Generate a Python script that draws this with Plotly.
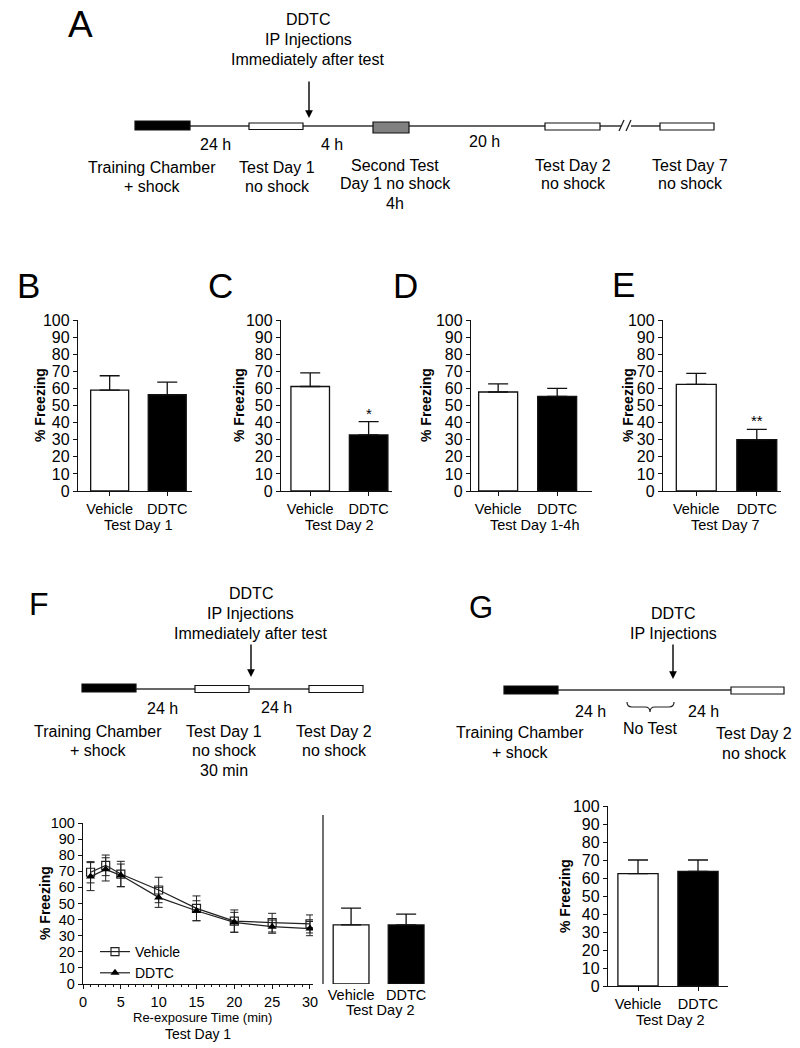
import plotly.graph_objects as go

W, H = 800, 1048
FONT = "Liberation Sans, Arial, sans-serif"
INK = "#111111"

# ---------------- data ----------------
groups = ["Vehicle", "DDTC"]
b_mean = [59.0, 56.3]; b_sem = [8.4, 7.4]     # Test Day 1
c_mean = [61.1, 32.8]; c_sem = [8.0, 7.8]     # Test Day 2
d_mean = [57.9, 55.3]; d_sem = [4.8, 4.7]     # Test Day 1-4h
e_mean = [62.3, 30.0]; e_sem = [6.5, 6.0]     # Test Day 7
f_bar_mean = [36.7, 36.7]; f_bar_sem = [10.4, 6.7]  # F, Test Day 2
g_mean = [62.4, 63.7]; g_sem = [7.6, 6.3]     # G, Test Day 2

time_min = [1, 3, 5, 10, 15, 20, 25, 30]
veh_line = [69.4, 73.7, 68.3, 58.4, 47.0, 39.1, 38.1, 37.3]
veh_sem = [6.6, 6.4, 7.9, 7.9, 7.7, 6.9, 5.8, 5.6]
ddtc_line = [66.7, 71.2, 67.5, 53.8, 45.5, 38.3, 35.6, 34.4]
ddtc_sem = [8.7, 7.2, 7.0, 6.2, 6.2, 6.2, 4.1, 4.4]

bar_panels = [  # (axis suffix, means, sems, subtitle, star)
    ("", b_mean, b_sem, "Test Day 1", ""),
    ("2", c_mean, c_sem, "Test Day 2", "*"),
    ("3", d_mean, d_sem, "Test Day 1-4h", ""),
    ("4", e_mean, e_sem, "Test Day 7", "**"),
]
yticks = list(range(0, 101, 10))


def px(x):
    return x / W


def py(y):
    return 1 - y / H


fig = go.Figure()

# ---------------- geometry (pixels) ----------------
bar_geo = {
    "": dict(x0=78, x1=192, rng=[-0.55, 1.43], ylab=40, mid=135),
    "2": dict(x0=281, x1=392, rng=[-0.5, 1.40], ylab=239, mid=336),
    "3": dict(x0=471, x1=592, rng=[-0.46, 1.59], ylab=426, mid=531),
    "4": dict(x0=663, x1=781, rng=[-0.55, 1.40], ylab=628, mid=722),
}


def add_bars(suffix, means, sems, width):
    fig.add_trace(go.Bar(
        x=groups, y=means, xaxis="x" + suffix, yaxis="y" + suffix, width=width,
        marker=dict(color=["white", "black"], line=dict(color=INK, width=1.3)),
        error_y=dict(type="data", array=sems, arrayminus=[0, 0], symmetric=False,
                     color=INK, thickness=1.3, width=10),
        showlegend=False, hoverinfo="skip"))


def style_bar_axes(suffix, x0, x1, y0, y1, rng, xticks=True, yshow=True):
    fig.layout["xaxis" + suffix] = dict(
        domain=[px(x0), px(x1)], range=rng, anchor="y" + suffix, automargin=False,
        showline=xticks, linecolor=INK, linewidth=1.3, showgrid=False, zeroline=False,
        ticks="outside" if xticks else "", ticklen=4, tickcolor=INK, tickwidth=1.3,
        tickfont=dict(family=FONT, size=14.5, color="black"), fixedrange=True)
    fig.layout["yaxis" + suffix] = dict(
        domain=[py(y0), py(y1)], range=[0, 100], anchor="x" + suffix, automargin=False,
        showline=yshow, linecolor=INK, linewidth=1.3, showgrid=False, zeroline=False,
        ticks="outside" if yshow else "", ticklen=4, tickcolor=INK, tickwidth=1.3,
        tickvals=yticks if yshow else [], showticklabels=yshow,
        tickfont=dict(family=FONT, size=16, color="black"), fixedrange=True)


annotations = []


def text(x, y, s, size=16, bold=False, angle=0, anchor="center"):
    annotations.append(dict(
        x=px(x), y=py(y), xref="paper", yref="paper", text=("<b>%s</b>" % s) if bold else s,
        showarrow=False, xanchor=anchor, yanchor="middle", textangle=angle,
        font=dict(family=FONT, size=size, color="black")))


# B-E
for suffix, means, sems, sub, star in bar_panels:
    g = bar_geo[suffix]
    add_bars(suffix, means, sems, 0.66)
    style_bar_axes(suffix, g["x0"], g["x1"], 491, 320, g["rng"])
    text(g["ylab"], 405, "% Freezing", size=14, bold=True, angle=-90)
    text(g["mid"] + 3, 525, sub, size=14.5)
    if star:
        annotations.append(dict(
            x=groups[1], y=means[1] + sems[1] + 5, xref="x" + suffix, yref="y" + suffix,
            text=star, showarrow=False, yanchor="middle",
            font=dict(family=FONT, size=15, color="black")))

# F line chart (axis 5)
fig.add_trace(go.Scatter(
    x=time_min, y=veh_line, xaxis="x5", yaxis="y5", name="Vehicle", mode="lines+markers",
    line=dict(color="#222", width=1.2),
    marker=dict(symbol="square-open", size=8, color="#222", line=dict(width=1.2)),
    error_y=dict(type="data", array=veh_sem, color="#222", thickness=1, width=4)))
fig.add_trace(go.Scatter(
    x=time_min, y=ddtc_line, xaxis="x5", yaxis="y5", name="DDTC", mode="lines+markers",
    line=dict(color="#222", width=1.2),
    marker=dict(symbol="triangle-up", size=8, color="black"),
    error_y=dict(type="data", array=ddtc_sem, color="#222", thickness=1, width=4)))
fig.layout["xaxis5"] = dict(
    domain=[px(83), px(313)], range=[0, 30.4], anchor="y5", automargin=False,
    showline=True, linecolor=INK, linewidth=1.3, showgrid=False, zeroline=False,
    ticks="outside", ticklen=4, tickcolor=INK, tickwidth=1.3, dtick=5, tick0=0,
    minor=dict(ticks="outside", ticklen=2, dtick=1, tick0=0, tickcolor=INK, tickwidth=1,
               showgrid=False),
    tickfont=dict(family=FONT, size=14.5, color="black"), fixedrange=True)
fig.layout["yaxis5"] = dict(
    domain=[py(984), py(823)], range=[0, 100], anchor="x5", automargin=False,
    showline=True, linecolor=INK, linewidth=1.3, showgrid=False, zeroline=False,
    ticks="outside", ticklen=4, tickcolor=INK, tickwidth=1.3, tickvals=yticks,
    tickfont=dict(family=FONT, size=14.5, color="black"), fixedrange=True)
text(45, 903, "% Freezing", size=14, bold=True, angle=-90)
text(203, 1017, "Re-exposure Time (min)", size=13)
text(198, 1034, "Test Day 1", size=14)

# F bars (axis 6)
add_bars("6", f_bar_mean, f_bar_sem, 0.65)
style_bar_axes("6", 323, 432, 984, 823, [-0.51, 1.47], xticks=False, yshow=False)
fig.layout["xaxis6"].showticklabels = True
text(380, 1010, "Test Day 2", size=14.5)

# G bars (axis 7)
add_bars("7", g_mean, g_sem, 0.67)
style_bar_axes("7", 608, 728, 986, 806, [-0.5, 1.5])
text(565, 896, "% Freezing", size=14, bold=True, angle=-90)
text(670, 1020, "Test Day 2", size=14.5)

# ---------------- panel letters ----------------
text(80, 24, "A", size=37)
for lx, ly, L in [(28, 286, "B"), (220, 286, "C"), (406, 286, "D"), (623, 284, "E")]:
    text(lx, ly, L, size=35)
text(39, 604, "F", size=32)
text(481, 607, "G", size=31)

# ---------------- timelines ----------------
shapes = []


def hline(x0, x1, y, w=1.4, color="#333"):
    shapes.append(dict(type="line", xref="paper", yref="paper", x0=px(x0), x1=px(x1),
                       y0=py(y), y1=py(y), line=dict(color=color, width=w)))


def seg(x0, y0, x1, y1, w=1.3):
    shapes.append(dict(type="line", xref="paper", yref="paper", x0=px(x0), x1=px(x1),
                       y0=py(y0), y1=py(y1), line=dict(color="#222", width=w)))


def box(x0, x1, y0, y1, fill):
    shapes.append(dict(type="rect", xref="paper", yref="paper", x0=px(x0), x1=px(x1),
                       y0=py(y1), y1=py(y0), fillcolor=fill, line=dict(color=INK, width=1.2)))


def arrow(x, ytip, ytail):
    annotations.append(dict(x=px(x), y=py(ytip), xref="paper", yref="paper", text="",
                            showarrow=True, ax=0, ay=-(ytip - ytail), arrowhead=2,
                            arrowsize=1.1, arrowwidth=1.4, arrowcolor="black"))


# A
hline(135, 621, 126)
hline(631, 712, 126)
seg(619, 131, 624, 120)
seg(626, 131, 631, 120)
box(135, 190, 121, 130, "black")
box(249, 303, 123, 129.5, "white")
box(373, 409, 122, 133, "#808080")
box(545, 600, 123, 130, "white")
box(660, 714, 123, 130, "white")
arrow(309, 118, 80)
text(308, 20, "DDTC")
text(308, 39, "IP Injections")
text(308, 59, "Immediately after test")
text(215, 144, "24 h")
text(332, 144, "4 h")
text(484, 141, "20 h")
for cx, lines in [(152, ["Training Chamber", "+ shock"]),
                  (277, ["Test Day 1", "no shock"]),
                  (395, ["Second Test", "Day 1 no shock", "4h"]),
                  (573, ["Test Day 2", "no shock"]),
                  (690, ["Test Day 7", "no shock"])]:
    y0 = 167 if cx in (152, 277) else 165
    for i, s in enumerate(lines):
        text(cx, y0 + 19 * i, s)

# F timeline
hline(136, 363, 689)
box(82, 136, 684, 692, "black")
box(195, 249, 685.5, 692.5, "white")
box(309, 363, 685.5, 692.5, "white")
arrow(251, 677, 643)
text(251, 593, "DDTC")
text(251, 613, "IP Injections")
text(251, 633, "Immediately after test")
text(162, 708, "24 h")
text(276, 707, "24 h")
for cx, lines in [(98, ["Training Chamber", "+ shock"]),
                  (224, ["Test Day 1", "no shock", "30 min"]),
                  (334, ["Test Day 2", "no shock"])]:
    for i, s in enumerate(lines):
        text(cx, 731 + 19.5 * i, s)

# G timeline
hline(558, 784, 690)
box(504, 558, 686, 694, "black")
box(731, 784, 687, 694, "white")
arrow(673, 679, 643)
text(673, 613, "DDTC")
text(673, 633, "IP Injections")
text(590, 711, "24 h")
text(703, 711, "24 h")
text(650, 728, "No Test")
text(520, 732, "Training Chamber")
text(520, 752, "+ shock")
text(754, 733, "Test Day 2")
text(754, 753, "no shock")
# brace under the injection point
bp = [(627, 702), (627, 707), (632, 707), (645, 707), (650, 707), (650, 712),
      (650, 707), (655, 707), (669, 707), (674, 707), (674, 702)]
P = [(px(a), py(b)) for a, b in bp]
path = ("M {0[0]},{0[1]} Q {1[0]},{1[1]} {2[0]},{2[1]} L {3[0]},{3[1]} Q {4[0]},{4[1]} {5[0]},{5[1]} "
        "Q {6[0]},{6[1]} {7[0]},{7[1]} L {8[0]},{8[1]} Q {9[0]},{9[1]} {10[0]},{10[1]}").format(*P)
shapes.append(dict(type="path", xref="paper", yref="paper", path=path,
                   line=dict(color="#222", width=1.2)))

# separator line in F between time course and Test Day 2 bars
seg(323, 815, 323, 984, w=1.3)

fig.update_layout(
    template="none",
    width=W, height=H, margin=dict(l=0, r=0, t=0, b=0, pad=0, autoexpand=False),
    paper_bgcolor="white", plot_bgcolor="white",
    annotations=annotations, shapes=shapes,
    showlegend=True,
    legend=dict(x=px(95), y=py(936), xanchor="left", yanchor="top",
                bgcolor="rgba(0,0,0,0)", borderwidth=0,
                font=dict(family=FONT, size=14, color="black"),
                itemwidth=30, tracegroupgap=0),
    font=dict(family=FONT, color="black"),
    hovermode=False,
)

fig.write_html(
    "out.html",
    config={"displayModeBar": False},
    post_script="document.body.style.margin='0';document.body.style.overflow='hidden';",
)
